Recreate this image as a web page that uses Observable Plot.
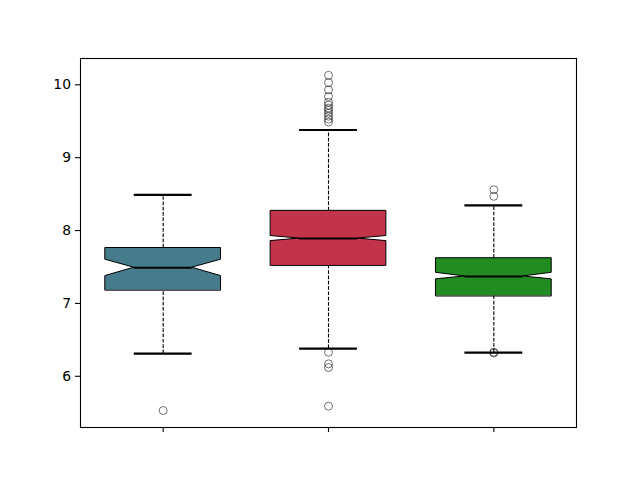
<!DOCTYPE html>
<html>
<head>
<meta charset="utf-8">
<script src="https://cdn.jsdelivr.net/npm/d3@7"></script>
<script src="https://cdn.jsdelivr.net/npm/@observablehq/plot@0.6"></script>
<style>
  html, body { margin: 0; padding: 0; background: #fff; }
  #chart { width: 640px; height: 480px; }
</style>
</head>
<body>
<div id="chart"></div>
<script>
// ---- data ----
const categories = ["A", "B", "C"];
const positions = [1, 2, 3];
const boxColors = ["#467b8c", "#c3334a", "#228b22"];
const q1 = [7.18, 7.52, 7.10];
const medians = [7.49, 7.89, 7.37];
const q3 = [7.76, 8.27, 7.62];
const notchLow = [7.375, 7.855, 7.33];
const notchHigh = [7.60, 7.925, 7.42];
const whiskerLow = [6.31, 6.38, 6.325];
const whiskerHigh = [8.49, 9.38, 8.345];
const outliersA = [5.53];
const outliersB = [10.13, 10.03, 9.93, 9.84, 9.76, 9.72, 9.68, 9.65, 9.61, 9.57, 9.53, 9.49, 6.33, 6.17, 6.12, 5.59];
const outliersC = [8.56, 8.47, 6.32, 6.33];
const yTicks = [6, 7, 8, 9, 10];

// ---- derived tables ----
const halfW = 0.35;
const boxRows = [];
categories.forEach((c, i) => {
  const p = positions[i];
  const pts = [
    [q1[i], halfW], [notchLow[i], halfW], [medians[i], halfW / 2],
    [notchHigh[i], halfW], [q3[i], halfW]
  ];
  for (const [y, w] of pts) boxRows.push({cat: c, y, x1: p - w, x2: p + w});
});
const stats = categories.map((c, i) => ({
  cat: c, p: positions[i], q1: q1[i], q3: q3[i], med: medians[i],
  lo: whiskerLow[i], hi: whiskerHigh[i]
}));
const outliers = [
  ...outliersA.map(v => ({p: 1, v})),
  ...outliersB.map(v => ({p: 2, v})),
  ...outliersC.map(v => ({p: 3, v}))
];

const chart = Plot.plot({
  width: 640,
  height: 480,
  marginLeft: 80,
  marginRight: 64,
  marginTop: 58,
  marginBottom: 53,
  style: {fontFamily: "DejaVu Sans", fontSize: "13.9px", color: "black", background: "white"},
  x: {domain: [0.5, 3.5], axis: null},
  y: {domain: [5.297, 10.361], axis: null},
  color: {domain: categories, range: boxColors, legend: false},
  marks: [
    Plot.frame({stroke: "black", strokeWidth: 1.1}),
    Plot.axisY({ticks: yTicks, tickSize: 5, tickPadding: 4.5, tickFormat: d => String(d), stroke: "black", fill: "black", strokeWidth: 1.1, fontSize: 13.9, fontFamily: "DejaVu Sans"}),
    Plot.axisX({ticks: positions, tickSize: 5, tickFormat: () => "", stroke: "black", strokeWidth: 1.1}),
    // whiskers
    Plot.ruleX(stats, {x: "p", y1: "q3", y2: "hi", stroke: "black", strokeWidth: 1.1, strokeDasharray: "3.7,1.6"}),
    Plot.ruleX(stats, {x: "p", y1: "lo", y2: "q1", stroke: "black", strokeWidth: 1.1, strokeDasharray: "3.7,1.6"}),
    // notched boxes
    Plot.areaX(boxRows, {y: "y", x1: "x1", x2: "x2", z: "cat", fill: "cat", stroke: "black", strokeWidth: 1, curve: "linear"}),
    // medians
    Plot.ruleY(stats, {y: "med", x1: d => d.p - halfW / 2, x2: d => d.p + halfW / 2, stroke: "black", strokeWidth: 2}),
    // caps
    Plot.ruleY(stats, {y: "hi", x1: d => d.p - halfW / 2, x2: d => d.p + halfW / 2, stroke: "black", strokeWidth: 2.2}),
    Plot.ruleY(stats, {y: "lo", x1: d => d.p - halfW / 2, x2: d => d.p + halfW / 2, stroke: "black", strokeWidth: 2.2}),
    // outliers
    Plot.dot(outliers, {x: "p", y: "v", r: 4, stroke: "black", strokeOpacity: 0.55, fill: "none", strokeWidth: 1})
  ]
});
document.getElementById("chart").appendChild(chart);
</script>
</body>
</html>
